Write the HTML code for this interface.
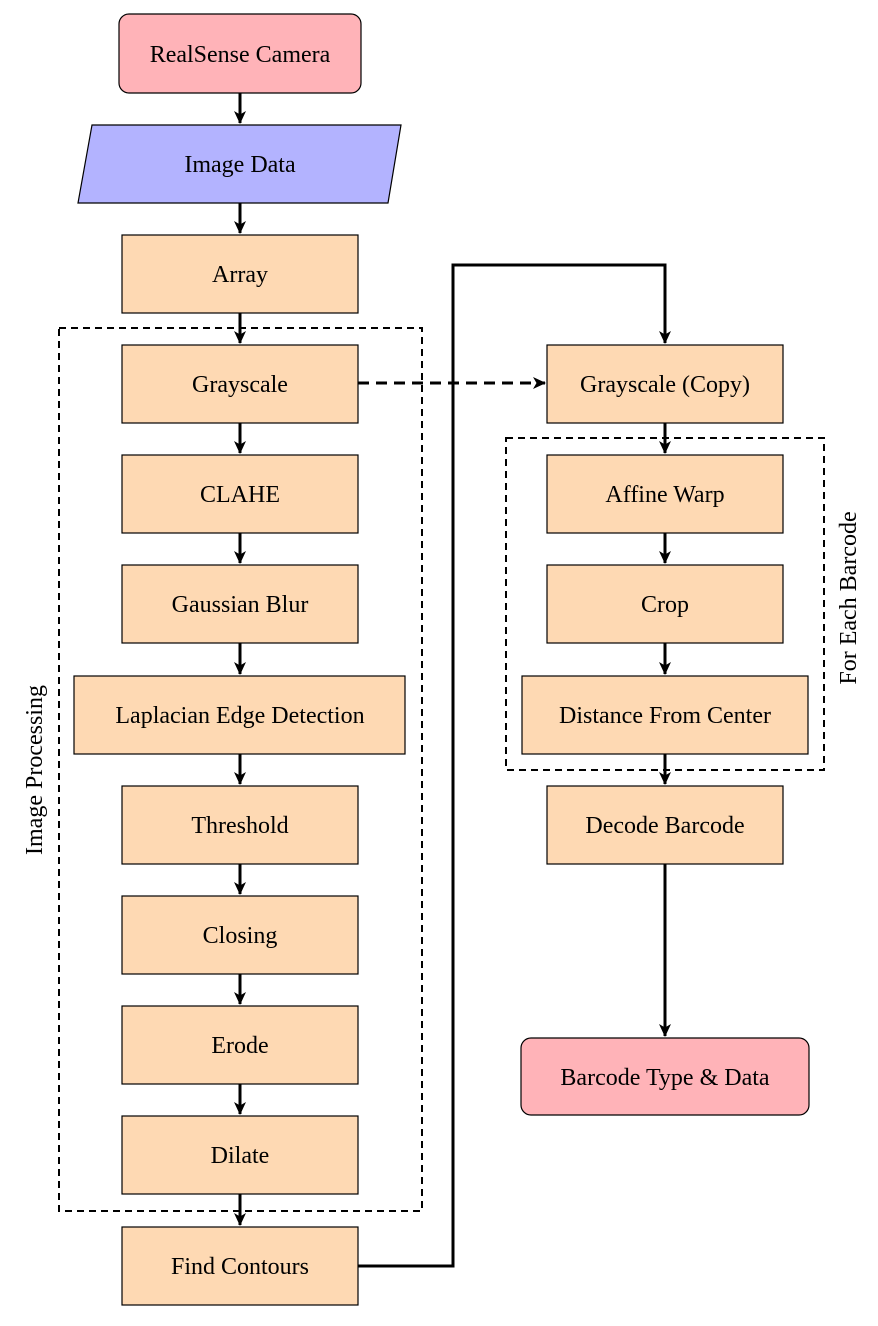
<!DOCTYPE html>
<html><head><meta charset="utf-8"><style>
html,body{margin:0;padding:0;background:#fff;}
svg text{font-family:"Liberation Serif",serif;font-size:24px;fill:#000;}
</style></head><body>
<svg width="878" height="1321" viewBox="0 0 878 1321" xmlns="http://www.w3.org/2000/svg">
<defs>
<marker id="a" markerWidth="14" markerHeight="12" refX="12" refY="6" orient="auto" markerUnits="userSpaceOnUse">
<path d="M0,0 L13,6 L0,12 L3.5,6 Z" fill="#000"/>
</marker>
</defs>
<g stroke="#000" stroke-width="1.2">
<rect x="119" y="14" width="242" height="79" rx="10" fill="#ffb3b8"/>
<polygon points="92,125 401,125 388,203 78,203" fill="#b3b3ff"/>
<g fill="#fed9b3">
<rect x="122" y="235" width="236" height="78"/>
<rect x="122" y="345" width="236" height="78"/>
<rect x="122" y="455" width="236" height="78"/>
<rect x="122" y="565" width="236" height="78"/>
<rect x="74" y="676" width="331" height="78"/>
<rect x="122" y="786" width="236" height="78"/>
<rect x="122" y="896" width="236" height="78"/>
<rect x="122" y="1006" width="236" height="78"/>
<rect x="122" y="1116" width="236" height="78"/>
<rect x="122" y="1227" width="236" height="78"/>
<rect x="547" y="345" width="236" height="78"/>
<rect x="547" y="455" width="236" height="78"/>
<rect x="547" y="565" width="236" height="78"/>
<rect x="522" y="676" width="286" height="78"/>
<rect x="547" y="786" width="236" height="78"/>
</g>
<rect x="521" y="1038" width="288" height="77" rx="10" fill="#ffb3b8"/>
</g>
<g fill="none" stroke="#000" stroke-width="2" stroke-dasharray="7,5">
<rect x="59" y="328" width="363" height="883"/>
<rect x="506" y="438" width="318" height="332"/>
</g>
<g stroke="#000" stroke-width="3" fill="none" marker-end="url(#a)">
<line x1="240" y1="93" x2="240" y2="123"/>
<line x1="240" y1="203" x2="240" y2="233"/>
<line x1="240" y1="313" x2="240" y2="343"/>
<line x1="240" y1="423" x2="240" y2="453"/>
<line x1="240" y1="533" x2="240" y2="563"/>
<line x1="240" y1="643" x2="240" y2="674"/>
<line x1="240" y1="754" x2="240" y2="784"/>
<line x1="240" y1="864" x2="240" y2="894"/>
<line x1="240" y1="974" x2="240" y2="1004"/>
<line x1="240" y1="1084" x2="240" y2="1114"/>
<line x1="240" y1="1194" x2="240" y2="1225"/>
<line x1="665" y1="423" x2="665" y2="453"/>
<line x1="665" y1="533" x2="665" y2="563"/>
<line x1="665" y1="643" x2="665" y2="674"/>
<line x1="665" y1="754" x2="665" y2="784"/>
<line x1="665" y1="864" x2="665" y2="1036"/>
<polyline points="358,1266 453,1266 453,265 665,265 665,343"/>
<line x1="358" y1="383" x2="545" y2="383" stroke-dasharray="11,7"/>
</g>
<g text-anchor="middle">
<text x="240" y="62">RealSense Camera</text>
<text x="240" y="172">Image Data</text>
<text x="240" y="282">Array</text>
<text x="240" y="392">Grayscale</text>
<text x="240" y="502">CLAHE</text>
<text x="240" y="612">Gaussian Blur</text>
<text x="240" y="723">Laplacian Edge Detection</text>
<text x="240" y="833">Threshold</text>
<text x="240" y="943">Closing</text>
<text x="240" y="1053">Erode</text>
<text x="240" y="1163">Dilate</text>
<text x="240" y="1274">Find Contours</text>
<text x="665" y="392">Grayscale (Copy)</text>
<text x="665" y="502">Affine Warp</text>
<text x="665" y="612">Crop</text>
<text x="665" y="723">Distance From Center</text>
<text x="665" y="833">Decode Barcode</text>
<text x="665" y="1085">Barcode Type &amp; Data</text>
<text transform="translate(42,770) rotate(-90)">Image Processing</text>
<text transform="translate(856,598) rotate(-90)">For Each Barcode</text>
</g>
</svg>
</body></html>
